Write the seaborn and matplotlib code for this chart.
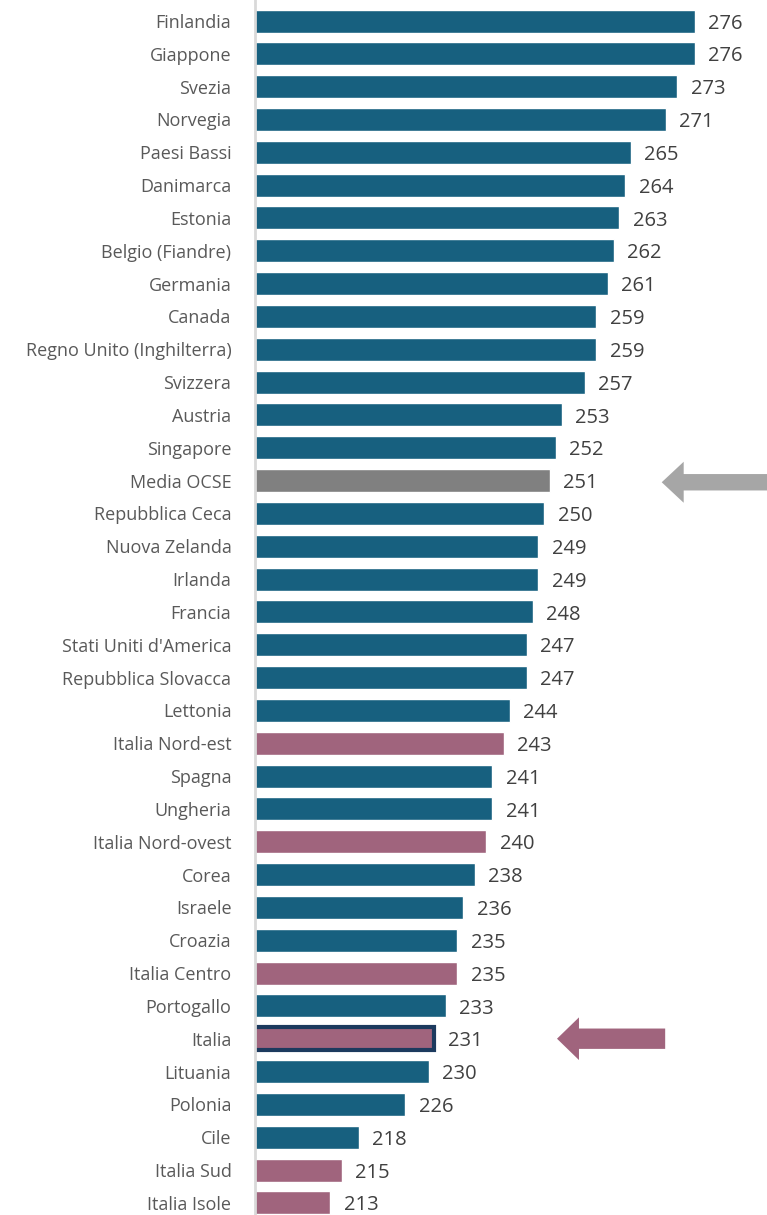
import matplotlib
matplotlib.use("Agg")
import matplotlib.pyplot as plt
import seaborn as sns
import pandas as pd
from matplotlib.patches import FancyArrow

# Data
countries = [
    "Finlandia", "Giappone", "Svezia", "Norvegia", "Paesi Bassi", "Danimarca",
    "Estonia", "Belgio (Fiandre)", "Germania", "Canada",
    "Regno Unito (Inghilterra)", "Svizzera", "Austria", "Singapore",
    "Media OCSE", "Repubblica Ceca", "Nuova Zelanda", "Irlanda", "Francia",
    "Stati Uniti d'America", "Repubblica Slovacca", "Lettonia",
    "Italia Nord-est", "Spagna", "Ungheria", "Italia Nord-ovest", "Corea",
    "Israele", "Croazia", "Italia Centro", "Portogallo", "Italia", "Lituania",
    "Polonia", "Cile", "Italia Sud", "Italia Isole",
]
scores = [
    276, 276, 273, 271, 265, 264, 263, 262, 261, 259, 259, 257, 253, 252,
    251, 250, 249, 249, 248, 247, 247, 244, 243, 241, 241, 240, 238, 236,
    235, 235, 233, 231, 230, 226, 218, 215, 213,
]
groups = [
    "paese"] * 14 + ["ocse"] + ["paese"] * 7 + ["italia", "paese", "paese",
    "italia", "paese", "paese", "paese", "italia", "paese", "italia",
    "paese", "paese", "paese", "italia", "italia",
]

BLUE = "#17607f"
PINK = "#a0647d"
GREY = "#808080"
NAVY = "#1c3a5e"
ARROW_GREY = "#a6a6a6"
LABEL = "#595959"
VALUE = "#404040"

df = pd.DataFrame({"paese": countries, "punteggio": scores, "gruppo": groups})

sns.set_style("white")
plt.rcParams["font.family"] = ["Open Sans", "DejaVu Sans"]

fig = plt.figure(figsize=(7.67, 12.15), dpi=100)
ax = fig.add_axes([255 / 767, 0, 1 - 255 / 767, 1])

sns.barplot(
    data=df, y="paese", x="punteggio", hue="gruppo",
    palette={"paese": BLUE, "ocse": GREY, "italia": PINK},
    dodge=False, legend=False, width=0.7, saturation=1, ax=ax,
)

# bars are drawn per hue level: map them back to rows by their y position
for patch in ax.patches:
    row = int(round(patch.get_y() + patch.get_height() / 2))
    if countries[row] == "Italia":
        patch.set_edgecolor(NAVY)
        patch.set_linewidth(3)

ax.set_xlim(200, 288.5)
ax.set_ylim(36.37, -0.64)
ax.set_xlabel("")
ax.set_ylabel("")
ax.set_xticks([])
ax.tick_params(axis="y", length=0, pad=17, labelsize=13, labelcolor=LABEL)

for side in ["top", "right", "bottom"]:
    ax.spines[side].set_visible(False)
ax.spines["left"].set_color("#d9d9d9")
ax.spines["left"].set_linewidth(2)

for i, v in enumerate(scores):
    ax.text(v + 2.3, i + 0.08, str(v), va="center", ha="left",
            fontsize=14.5, color=VALUE)

# arrows pointing at OECD average and Italy
i_ocse = countries.index("Media OCSE")
i_ita = countries.index("Italia")
ax.add_patch(FancyArrow(
    288.5, i_ocse + 0.05, -18.2, 0, width=0.5, head_width=1.25,
    head_length=3.8, length_includes_head=True, color=ARROW_GREY, lw=0,
    clip_on=False))
ax.add_patch(FancyArrow(
    270.9, i_ita, -18.7, 0, width=0.62, head_width=1.3,
    head_length=3.8, length_includes_head=True, color=PINK, lw=0,
    clip_on=False))

fig.savefig("out.png", dpi=100)
